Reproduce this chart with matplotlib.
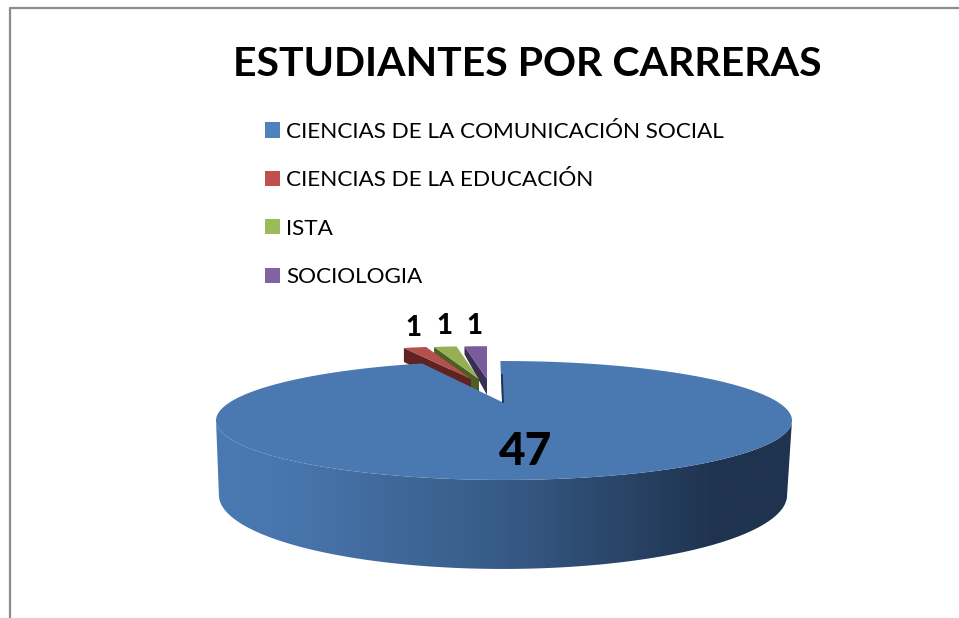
import matplotlib
matplotlib.use("Agg")
import matplotlib.pyplot as plt
import numpy as np
from matplotlib.colors import LinearSegmentedColormap
from matplotlib.patches import Patch, Polygon

plt.rcParams['font.family'] = ['Lato', 'DejaVu Sans']

carreras = ["CIENCIAS DE LA COMUNICACIÓN SOCIAL", "CIENCIAS DE LA EDUCACIÓN", "ISTA", "SOCIOLOGIA"]
valores = [47, 1, 1, 1]
colores = ["#4A78B1", "#B5504D", "#94B052", "#7A5C9C"]
oscuros = ["#2D4A6E", "#5E2322", "#4E5F25", "#3A2E55"]
# vertice de cada porcion pequeña y altura de su cara oscura (afuera, en el vertice)
vertices_x = [502, 471, 479, 487]
vertices_y = [402, 379, 379, 379]
alto_afuera = [0, 14, 8, 8]
alto_vertice = 16

K = 0.311


def proyectar(t, r, s, x0, y0):
    # circulo visto en perspectiva, t en radianes desde arriba en sentido horario
    u = np.sin(t)
    v = -np.cos(t)
    w = 1 - K * v
    return x0 + r * u / w, y0 + s * v / w


def sup(t):
    return proyectar(t, 273.7, 53.7, 504, 402)


def inf(t):
    return proyectar(t, 270, 66.8, 503, 472)


fig = plt.figure(figsize=(9.59, 6.18), dpi=100)
ax = fig.add_axes([0, 0, 1, 1])
ax.set_xlim(0, 959)
ax.set_ylim(618, 0)
ax.axis("off")

# marco del grafico, abierto abajo y a la derecha
ax.plot([9.5, 9.5, 959], [618, 8, 8], color="#8C8C8C", lw=1.6, solid_capstyle="butt")

ax.text(527.5, 65, "ESTUDIANTES POR CARRERAS", fontsize=29.5, fontweight="bold", ha="center", va="center", color="black")

handles = [Patch(facecolor=c, edgecolor="none") for c in ["#4F81BD", "#C0504D", "#9BBB59", "#8064A2"]]
ax.legend(handles, carreras, loc="upper left", bbox_to_anchor=(265 / 959, 1 - 122 / 618), frameon=False,
          fontsize=16.2, labelspacing=1.26, handlelength=0.667, handleheight=0.667, handletextpad=0.27, borderpad=0, borderaxespad=0)

angulos = np.radians(np.cumsum([0] + valores) * 360 / sum(valores))

# porciones pequeñas: primero, quedan detras de la grande; la roja encima de la verde y la verde de la morada
for i in [3, 2, 1]:
    t = np.linspace(angulos[i], angulos[i + 1], 12)
    xs, ys = proyectar(t, 235, 43, vertices_x[i], vertices_y[i])
    xc, yc = vertices_x[i], vertices_y[i]
    # cara interior oscura
    ax.add_patch(Polygon([(xs[0], ys[0]), (xc, yc), (xc, yc + alto_vertice), (xs[0], ys[0] + alto_afuera[i])],
                         closed=True, fc=oscuros[i], ec="none"))
    ax.add_patch(Polygon(list(zip(xs, ys)) + [(xc, yc)], closed=True, fc=colores[i], ec="none"))

# cara lateral de la porcion grande con degradado
t_frente = np.linspace(np.arccos(-K), 2 * np.pi - np.arccos(-K), 200)
xt, yt = sup(t_frente)
xb, yb = inf(t_frente)
lado = Polygon(list(zip(xt, yt)) + list(zip(xb[::-1], yb[::-1])), closed=True, fc="none", ec="none")
ax.add_patch(lado)
cmap = LinearSegmentedColormap.from_list("lado", [(0, "#1F334F"), (0.13, "#1F334F"), (0.51, "#375B87"),
                                                  (0.68, "#3F6898"), (0.855, "#4874AC"), (0.96, "#4A78B1"), (1, "#4A78B1")])
im = ax.imshow(np.linspace(1, 0, 600).reshape(1, -1), cmap=cmap, extent=(216, 793, 618, 300), aspect="auto", zorder=2, vmin=0, vmax=1)
im.set_clip_path(lado)
ax.set_xlim(0, 959)
ax.set_ylim(618, 0)

# cara superior, girada un grado como en el original
t = np.linspace(angulos[0], angulos[1], 400) - np.radians(1)
xs, ys = sup(t)
ax.add_patch(Polygon(list(zip(xs, ys)) + [(vertices_x[0], vertices_y[0])], closed=True, fc=colores[0], ec="none", zorder=3))
# borde del corte en la muesca
x0, y0 = sup(t[0])
ax.plot([x0 + 1.5, vertices_x[0] + 1], [y0 + 14, vertices_y[0]], color="#1F334F", lw=1.3, zorder=4)

# etiquetas de valores
ax.text(526, 452, str(valores[0]), fontsize=33, fontweight="black", ha="center", va="center", zorder=5)
for x, y, v in zip([413, 444, 474], [328, 326, 326], valores[1:]):
    ax.text(x, y, str(v), fontsize=20, fontweight="black", ha="center", va="center", zorder=5)

fig.savefig("out.png", dpi=100)
